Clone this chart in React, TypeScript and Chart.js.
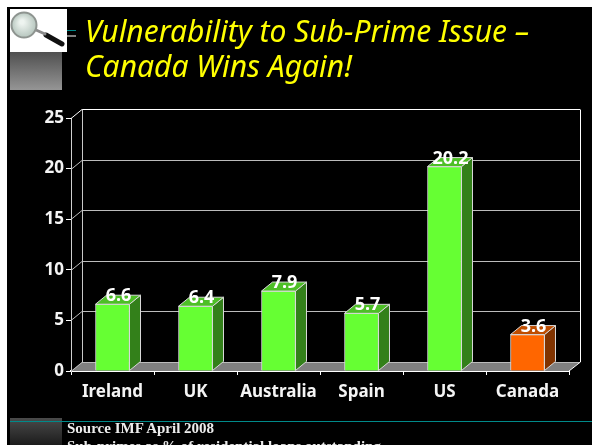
import React, { useEffect, useRef } from "react";
import { Chart, registerables } from "chart.js";

Chart.register(...registerables);

const categories = ["Ireland", "UK", "Australia", "Spain", "US", "Canada"];
const values = [6.6, 6.4, 7.9, 5.7, 20.2, 3.6];
const frontColors = ["#66ff33", "#66ff33", "#66ff33", "#66ff33", "#66ff33", "#ff6600"];
const sideColors = ["#33801a", "#33801a", "#33801a", "#33801a", "#33801a", "#803300"];
const topColors = ["#4dbf26", "#4dbf26", "#4dbf26", "#4dbf26", "#4dbf26", "#bf4d00"];
const titleLines = ["Vulnerability to Sub-Prime Issue –", "Canada Wins Again!"];
const footerLines = ["Source IMF April 2008", "Sub-primes as % of residential loans outstanding"];

const DX = 11;
const DY = 9;
const LABEL_FONT = "bold 18px 'Noto Sans'";

const slidePlugin = {
  id: "slide",
  beforeDraw(chart: any) {
    const c = chart.ctx;
    c.save();
    c.fillStyle = "#ffffff";
    c.fillRect(0, 0, 592, 445);
    c.fillStyle = "#000000";
    c.fillRect(7, 7, 585, 438);

    let g = c.createLinearGradient(0, 52, 0, 90);
    g.addColorStop(0, "#505050");
    g.addColorStop(1, "#959595");
    c.fillStyle = g;
    c.fillRect(10, 52, 52, 38);

    g = c.createLinearGradient(0, 418, 0, 445);
    g.addColorStop(0, "#4a4a4a");
    g.addColorStop(1, "#1c1c1c");
    c.fillStyle = g;
    c.fillRect(10, 418, 52, 27);

    c.fillStyle = "#008a8a";
    c.fillRect(67, 30, 9, 1);
    c.fillRect(10, 421, 582, 1);
    c.fillStyle = "#808080";
    c.fillRect(67, 35, 9, 2);

    c.fillStyle = "#ffffff";
    c.fillRect(10, 9, 57, 43);
    c.strokeStyle = "#111111";
    c.lineCap = "round";
    c.lineWidth = 5;
    c.beginPath();
    c.moveTo(46, 35);
    c.lineTo(62, 44);
    c.stroke();
    c.strokeStyle = "#8a8a8a";
    c.lineWidth = 3;
    c.beginPath();
    c.moveTo(36, 30);
    c.lineTo(45, 34);
    c.stroke();
    const lens = c.createRadialGradient(22, 22, 2, 24, 25, 13);
    lens.addColorStop(0, "#eef4f0");
    lens.addColorStop(1, "#b4c4bc");
    c.fillStyle = lens;
    c.strokeStyle = "#8e9490";
    c.lineWidth = 2;
    c.beginPath();
    c.arc(24, 25, 12.5, 0, Math.PI * 2);
    c.fill();
    c.stroke();
    c.restore();
  },
  beforeDatasetsDraw(chart: any) {
    const c = chart.ctx;
    const y = chart.scales.y;
    const { left, right } = chart.chartArea;
    const y0 = y.getPixelForValue(0);
    c.save();
    c.fillStyle = "#808080";
    c.beginPath();
    c.moveTo(left, y0);
    c.lineTo(left + DX, y0 - DY);
    c.lineTo(right + DX, y0 - DY);
    c.lineTo(right, y0);
    c.closePath();
    c.fill();
    c.lineWidth = 1;
    for (const t of y.ticks) {
      const py = Math.round(y.getPixelForValue(t.value)) + 0.5;
      c.strokeStyle = t.value === 25 ? "#ffffff" : "#bcbcbc";
      c.beginPath();
      c.moveTo(left, py);
      c.lineTo(left + DX, py - DY);
      c.lineTo(right + DX, py - DY);
      c.stroke();
    }
    const top = Math.round(y.getPixelForValue(25)) + 0.5 - DY;
    c.strokeStyle = "#c8c8c8";
    c.beginPath();
    c.moveTo(left + DX + 0.5, top);
    c.lineTo(left + DX + 0.5, y0 - DY);
    c.stroke();
    c.strokeStyle = "#ffffff";
    c.beginPath();
    c.moveTo(right + DX + 0.5, top);
    c.lineTo(right + DX + 0.5, y0 - DY);
    c.lineTo(right, y0);
    c.stroke();
    c.restore();
  },
  afterDatasetsDraw(chart: any) {
    const c = chart.ctx;
    const bars = chart.getDatasetMeta(0).data;
    c.save();
    bars.forEach((b: any, i: number) => {
      const half = b.width / 2;
      const l = b.x - half;
      const r = b.x + half;
      const t = b.y;
      const bottom = b.base;
      c.lineWidth = 1;
      c.strokeStyle = "#d8d8d8";
      c.fillStyle = sideColors[i];
      c.beginPath();
      c.moveTo(r, t);
      c.lineTo(r + DX, t - DY);
      c.lineTo(r + DX, bottom - DY);
      c.lineTo(r, bottom);
      c.closePath();
      c.fill();
      c.stroke();
      c.fillStyle = topColors[i];
      c.beginPath();
      c.moveTo(l, t);
      c.lineTo(l + DX, t - DY);
      c.lineTo(r + DX, t - DY);
      c.lineTo(r, t);
      c.closePath();
      c.fill();
      c.stroke();
      c.fillStyle = "#ffffff";
      c.font = LABEL_FONT;
      c.textAlign = "center";
      c.textBaseline = "middle";
      c.fillText(String(values[i]), b.x + 6, t - 8);
    });
    c.restore();
  },
};

export default function App() {
  const ref = useRef<HTMLCanvasElement>(null);
  useEffect(() => {
    const font = { family: "'Noto Sans'", size: 17, weight: "bold" as const };
    const chart = new Chart(ref.current as HTMLCanvasElement, {
      type: "bar",
      data: {
        labels: categories,
        datasets: [
          {
            data: values,
            backgroundColor: frontColors,
            borderColor: "#d8d8d8",
            borderWidth: 1,
            barThickness: 34,
          },
        ],
      },
      options: {
        responsive: false,
        animation: false,
        layout: { padding: { top: 118, right: 23, left: 0, bottom: 0 } },
        plugins: { legend: { display: false }, tooltip: { enabled: false } },
        scales: {
          x: {
            afterFit: (s: any) => {
              s.height = 74;
            },
            border: { color: "#ffffff", width: 2 },
            grid: { drawOnChartArea: false, color: "#ffffff", tickLength: 4 },
            ticks: { color: "#f4f4f4", font, padding: 7, maxRotation: 0 },
          },
          y: {
            min: 0,
            max: 25,
            afterFit: (s: any) => {
              s.width = 71;
            },
            border: { color: "#d0d0d0", width: 1 },
            grid: { drawOnChartArea: false, color: "#ffffff", tickLength: 5 },
            ticks: { color: "#f4f4f4", font, stepSize: 5, padding: 2 },
          },
        },
      },
      plugins: [slidePlugin],
    });
    return () => chart.destroy();
  }, []);

  return (
    <div style={{ position: "fixed", left: 0, top: 0, width: 592, height: 445, overflow: "hidden" }}>
      <canvas ref={ref} width={592} height={445} style={{ display: "block" }} />
      <div
        style={{
          position: "absolute",
          left: 85,
          top: 13,
          color: "#ffff00",
          fontFamily: "'Noto Sans'",
          fontStyle: "italic",
          fontSize: 30,
          lineHeight: "35px",
          whiteSpace: "nowrap",
        }}
      >
        {titleLines.map((t) => (
          <div key={t}>{t}</div>
        ))}
      </div>
      <div
        style={{
          position: "absolute",
          left: 67,
          top: 419,
          color: "#ececec",
          fontFamily: "'Liberation Serif'",
          fontWeight: "bold",
          fontSize: 15,
          lineHeight: "18px",
          whiteSpace: "nowrap",
        }}
      >
        {footerLines.map((t) => (
          <div key={t}>{t}</div>
        ))}
      </div>
    </div>
  );
}
